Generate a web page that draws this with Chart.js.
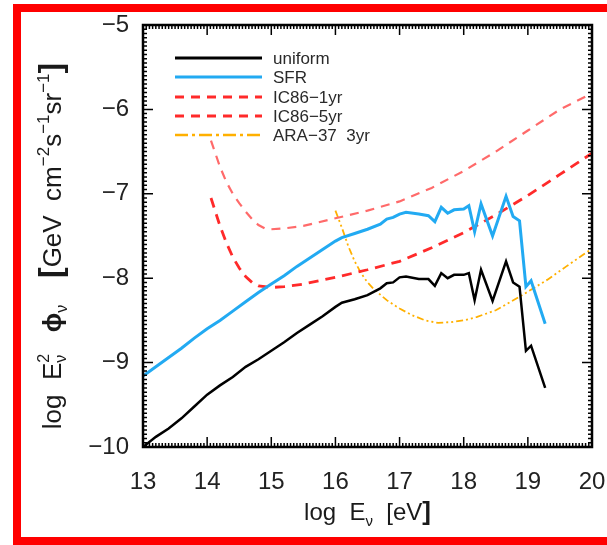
<!DOCTYPE html>
<html>
<head>
<meta charset="utf-8">
<script src="https://cdn.jsdelivr.net/npm/chart.js@4/dist/chart.umd.min.js"></script>
<style>
  html, body { margin: 0; padding: 0; background: #fff; }
  #wrap { position: relative; width: 607px; height: 545px; overflow: hidden; }
  #frame {
    position: absolute; left: 13px; top: 4px; width: 600px; height: 541px;
    box-sizing: border-box; border: 8px solid #ff0000; border-right: none;
    pointer-events: none;
  }
</style>
</head>
<body>
<div id="wrap">
  <canvas id="fluxChart" width="607" height="545"></canvas>
  <div id="frame"></div>
</div>
<script>
const fontFamily = "'Liberation Sans', Arial, Helvetica, sans-serif";

// log E_nu [eV] and log E^2 phi for each curve
const uniformLogE = [13.0, 13.2, 13.4, 13.6, 13.8, 14.0, 14.2, 14.4, 14.6, 14.8, 15.0, 15.2, 15.4, 15.6, 15.8, 16.0, 16.1,
  16.3, 16.5, 16.7, 16.8, 16.9, 17.0, 17.1, 17.3, 17.45, 17.55, 17.65, 17.75, 17.85, 18.0, 18.08, 18.17, 18.27, 18.45,
  18.66, 18.77, 18.87, 18.97, 19.05, 19.27];
const uniformFlux = [-10.0, -9.88, -9.78, -9.66, -9.52, -9.38, -9.27, -9.17, -9.05, -8.96, -8.86, -8.76, -8.65, -8.55, -8.45, -8.34, -8.29,
  -8.25, -8.2, -8.12, -8.06, -8.05, -7.99, -7.98, -8.01, -8.01, -8.09, -7.94, -8.0, -7.96, -7.96, -7.94, -8.26, -7.9, -8.27,
  -7.8, -8.05, -8.1, -8.86, -8.8, -9.3];

const sfrLogE = [13.0, 13.2, 13.4, 13.6, 13.8, 14.0, 14.2, 14.4, 14.6, 14.8, 15.0, 15.2, 15.4, 15.6, 15.8, 16.0, 16.1,
  16.3, 16.5, 16.7, 16.8, 16.9, 17.0, 17.1, 17.3, 17.45, 17.55, 17.65, 17.75, 17.85, 18.0, 18.08, 18.17, 18.27, 18.45,
  18.66, 18.77, 18.87, 18.97, 19.05, 19.27];
const sfrFlux = [-9.16, -9.05, -8.94, -8.83, -8.71, -8.6, -8.5, -8.39, -8.28, -8.17, -8.07, -7.97, -7.86, -7.76, -7.66, -7.56, -7.52,
  -7.47, -7.42, -7.36, -7.3, -7.28, -7.24, -7.22, -7.24, -7.26, -7.33, -7.16, -7.23, -7.19, -7.18, -7.14, -7.45, -7.12, -7.5,
  -7.03, -7.27, -7.32, -8.1, -8.03, -8.54];

const ic1LogE = [14.06, 14.2, 14.3, 14.4, 14.5, 14.6, 14.7, 14.8, 14.9, 15.0, 15.2, 15.5, 16.0, 16.5, 17.0, 17.5, 18.0, 18.5, 19.0, 19.5, 20.0];
const ic1Flux = [-6.37, -6.68, -6.86, -7.0, -7.11, -7.21, -7.3, -7.37, -7.41, -7.42, -7.41, -7.38, -7.29, -7.2, -7.09, -6.93, -6.73, -6.5, -6.25, -6.0, -5.81];

const ic5LogE = [14.06, 14.2, 14.3, 14.4, 14.5, 14.6, 14.7, 14.8, 14.9, 15.0, 15.2, 15.5, 16.0, 16.5, 17.0, 17.5, 18.0, 18.5, 19.0, 19.5, 20.0];
const ic5Flux = [-7.05, -7.38, -7.58, -7.75, -7.88, -7.98, -8.05, -8.09, -8.1, -8.11, -8.1, -8.07, -7.99, -7.9, -7.8, -7.64, -7.46, -7.25, -7.02, -6.77, -6.52];

const araLogE = [16.0, 16.1, 16.2, 16.3, 16.4, 16.5, 16.6, 16.8, 17.0, 17.2, 17.4, 17.6, 17.8, 18.0, 18.2, 18.5, 18.8, 19.0, 19.3, 19.6, 20.0];
const araFlux = [-7.2, -7.4, -7.62, -7.8, -7.94, -8.05, -8.13, -8.26, -8.36, -8.44, -8.5, -8.53, -8.52, -8.5, -8.46, -8.38, -8.25, -8.16, -8.02, -7.86, -7.65];

const xTicks = [13, 14, 15, 16, 17, 18, 19, 20];
const yTicks = [-10, -9, -8, -7, -6, -5];

const series = [
  { label: "uniform", x: uniformLogE, y: uniformFlux, color: "#000000", width: 2.5, dash: [] },
  { label: "SFR", x: sfrLogE, y: sfrFlux, color: "#22aaf2", width: 3, dash: [] },
  { label: "IC86\u22121yr", x: ic1LogE, y: ic1Flux, color: "#ff6a6a", width: 2.2, dash: [9, 7] },
  { label: "IC86\u22125yr", x: ic5LogE, y: ic5Flux, color: "#ff2a2a", width: 2.8, dash: [10, 7] },
  { label: "ARA\u221237  3yr", x: araLogE, y: araFlux, color: "#ffb000", width: 1.8, dash: [7, 3, 2, 3, 2, 3] }
];

const legendDash = [[], [], [9, 7], [9, 7], [13, 4, 3, 4]];
const legendColor = ["#000000", "#22aaf2", "#ff2a2a", "#ff2a2a", "#ffb000"];

const minus = v => (v < 0 ? "\u2212" + Math.abs(v) : String(v));

// draws a run of text pieces: {t, size, dy, stack:[sup, sub]}
function drawRich(ctx, parts, x, y, align) {
  const w = parts.reduce((s, p) => {
    ctx.font = (p.bold ? "bold " : "") + p.size + "px " + fontFamily;
    if (p.stack) {
      return s + Math.max(ctx.measureText(p.stack[0]).width, ctx.measureText(p.stack[1]).width);
    }
    return s + ctx.measureText(p.t).width;
  }, 0);
  let cx = align === "center" ? x - w / 2 : x;
  ctx.textBaseline = "alphabetic";
  ctx.textAlign = "left";
  for (const p of parts) {
    ctx.font = (p.bold ? "bold " : "") + p.size + "px " + fontFamily;
    if (p.stack) {
      ctx.fillText(p.stack[0], cx, y - 12);
      ctx.fillText(p.stack[1], cx, y + 5);
      cx += Math.max(ctx.measureText(p.stack[0]).width, ctx.measureText(p.stack[1]).width);
    } else {
      ctx.fillText(p.t, cx, y + (p.dy || 0));
      cx += ctx.measureText(p.t).width;
    }
  }
}

const framePlugin = {
  id: "frame",
  afterDatasetsDraw(chart) {
    const { ctx, chartArea: a, scales } = chart;
    ctx.save();
    ctx.strokeStyle = "#000";
    ctx.lineWidth = 1.5;
    ctx.beginPath();
    // minor ticks, every 0.05
    for (let i = 1; i < 140; i++) {
      const px = scales.x.getPixelForValue(13 + i * 0.05);
      ctx.moveTo(px, a.bottom); ctx.lineTo(px, a.bottom - 4);
      ctx.moveTo(px, a.top); ctx.lineTo(px, a.top + 4);
    }
    for (let i = 1; i < 100; i++) {
      const py = scales.y.getPixelForValue(-10 + i * 0.05);
      ctx.moveTo(a.left, py); ctx.lineTo(a.left + 4, py);
      ctx.moveTo(a.right, py); ctx.lineTo(a.right - 4, py);
    }
    xTicks.forEach(v => {
      const px = scales.x.getPixelForValue(v);
      ctx.moveTo(px, a.bottom); ctx.lineTo(px, a.bottom - 10);
      ctx.moveTo(px, a.top); ctx.lineTo(px, a.top + 10);
    });
    yTicks.forEach(v => {
      const py = scales.y.getPixelForValue(v);
      ctx.moveTo(a.left, py); ctx.lineTo(a.left + 10, py);
      ctx.moveTo(a.right, py); ctx.lineTo(a.right - 10, py);
    });
    ctx.stroke();
    ctx.lineWidth = 2.5;
    ctx.strokeRect(a.left, a.top, a.right - a.left, a.bottom - a.top);

    // legend
    const rows = [58, 77, 97, 116, 135];
    series.forEach((s, i) => {
      ctx.beginPath();
      ctx.setLineDash(legendDash[i]);
      ctx.strokeStyle = legendColor[i];
      ctx.lineWidth = i === 4 ? 2.5 : 3;
      ctx.moveTo(175, rows[i]);
      ctx.lineTo(262, rows[i]);
      ctx.stroke();
      ctx.setLineDash([]);
      ctx.fillStyle = "#2a2a2a";
      ctx.font = "17px " + fontFamily;
      ctx.textBaseline = "middle";
      ctx.textAlign = "left";
      ctx.fillText(s.label, 273, rows[i] + 1);
    });

    // axis titles
    ctx.fillStyle = "#1a1a1a";
    drawRich(ctx, [
      { t: "log  E", size: 24 },
      { t: "\u03bd", size: 15, dy: 6 },
      { t: "  [eV", size: 24 },
      { t: "]", size: 26, bold: true }
    ], (a.left + a.right) / 2, 520, "center");

    ctx.translate(61, (a.top + a.bottom) / 2 + 10);
    ctx.rotate(-Math.PI / 2);
    drawRich(ctx, [
      { t: "log  E", size: 26 },
      { stack: ["2", "\u03bd"], size: 16 },
      { t: "   \u03d5", size: 26, bold: true },
      { t: "\u03bd", size: 16, dy: 6 },
      { t: "   [", size: 32, bold: true },
      { t: "GeV  cm", size: 26 },
      { t: "\u22122", size: 17, dy: -12 },
      { t: "s", size: 26 },
      { t: "\u22121", size: 17, dy: -12 },
      { t: "sr", size: 26 },
      { t: "\u22121", size: 17, dy: -12 },
      { t: "]", size: 32, bold: true }
    ], 0, 0, "center");
    ctx.restore();
  }
};

new Chart(document.getElementById("fluxChart"), {
  type: "line",
  data: {
    datasets: series.map(s => ({
      label: s.label,
      data: s.x.map((x, i) => ({ x, y: s.y[i] })),
      borderColor: s.color,
      backgroundColor: s.color,
      borderWidth: s.width,
      borderDash: s.dash,
      pointRadius: 0,
      tension: 0,
      fill: false
    }))
  },
  options: {
    responsive: false,
    animation: false,
    layout: { padding: { top: 25, right: 15, left: 0, bottom: 0 } },
    plugins: {
      legend: { display: false },
      tooltip: { enabled: false }
    },
    scales: {
      x: {
        type: "linear",
        min: 13,
        max: 20,
        afterBuildTicks: scale => { scale.ticks = xTicks.map(v => ({ value: v })); },
        afterFit: scale => {
          scale.height = 98;
          scale.paddingLeft = 0;
          scale.paddingRight = 0;
        },
        grid: { display: false },
        border: { display: false },
        ticks: {
          color: "#222",
          padding: 13,
          font: { family: fontFamily, size: 24 },
          callback: v => minus(v),
          maxRotation: 0
        }
      },
      y: {
        type: "linear",
        min: -10,
        max: -5,
        afterBuildTicks: scale => { scale.ticks = yTicks.map(v => ({ value: v })); },
        afterFit: scale => {
          scale.width = 143;
          scale.paddingTop = 0;
          scale.paddingBottom = 0;
        },
        grid: { display: false },
        border: { display: false },
        ticks: {
          color: "#222",
          padding: 6,
          font: { family: fontFamily, size: 24 },
          callback: v => minus(v)
        }
      }
    }
  },
  plugins: [framePlugin]
});
</script>
</body>
</html>
